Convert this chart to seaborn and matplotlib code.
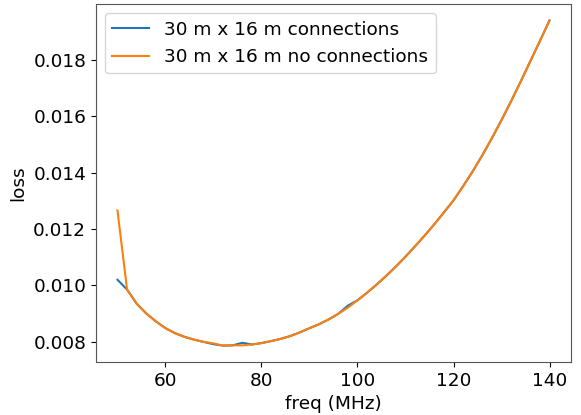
import matplotlib
matplotlib.use("Agg")
import matplotlib.pyplot as plt
import seaborn as sns
import pandas as pd

freq = list(range(50, 141, 2))

loss_connections = [
    0.01020, 0.00985, 0.00935, 0.00900, 0.00872, 0.00848, 0.00830, 0.00817,
    0.00807, 0.00799, 0.00791, 0.00786, 0.00787, 0.00796, 0.00790, 0.00795,
    0.00802, 0.00810, 0.00820, 0.00833, 0.00848, 0.00862, 0.00879, 0.00899,
    0.00928, 0.00947, 0.00974, 0.01003, 0.01034, 0.01067, 0.01102, 0.01139,
    0.01177, 0.01217, 0.01259, 0.01302, 0.01352, 0.01405, 0.01462, 0.01523,
    0.01587, 0.01654, 0.01724, 0.01796, 0.01868, 0.01941,
]

loss_no_connections = [
    0.01266, 0.00985, 0.00935, 0.00900, 0.00872, 0.00848, 0.00830, 0.00817,
    0.00807, 0.00799, 0.00794, 0.00786, 0.00787, 0.00787, 0.00790, 0.00795,
    0.00802, 0.00810, 0.00820, 0.00833, 0.00848, 0.00862, 0.00879, 0.00899,
    0.00921, 0.00947, 0.00974, 0.01003, 0.01034, 0.01067, 0.01102, 0.01139,
    0.01177, 0.01217, 0.01259, 0.01302, 0.01352, 0.01405, 0.01462, 0.01523,
    0.01587, 0.01654, 0.01724, 0.01796, 0.01868, 0.01941,
]

labels = ["30 m x 16 m connections", "30 m x 16 m no connections"]

df = pd.concat([
    pd.DataFrame({"freq": freq, "loss": loss_connections, "run": labels[0]}),
    pd.DataFrame({"freq": freq, "loss": loss_no_connections, "run": labels[1]}),
])

fs = 13.3
plt.rcParams["font.size"] = fs

fig, ax = plt.subplots(figsize=(5.81, 4.15), dpi=100)
sns.lineplot(data=df, x="freq", y="loss", hue="run", hue_order=labels,
             palette=["#1f77b4", "#ff7f0e"], linewidth=1.5, ax=ax)

ax.set_xlabel("freq (MHz)", fontsize=fs)
ax.set_ylabel("loss", fontsize=fs)
ax.set_xticks([60, 80, 100, 120, 140])
ax.set_yticks([0.008, 0.010, 0.012, 0.014, 0.016, 0.018])
ax.tick_params(labelsize=fs)
for spine in ax.spines.values():
    spine.set_color("#555555")
ax.legend(title=None, loc="upper left", fontsize=fs)

fig.subplots_adjust(left=0.165, right=0.983, bottom=0.128, top=0.99)
fig.savefig("out.png", dpi=100)
